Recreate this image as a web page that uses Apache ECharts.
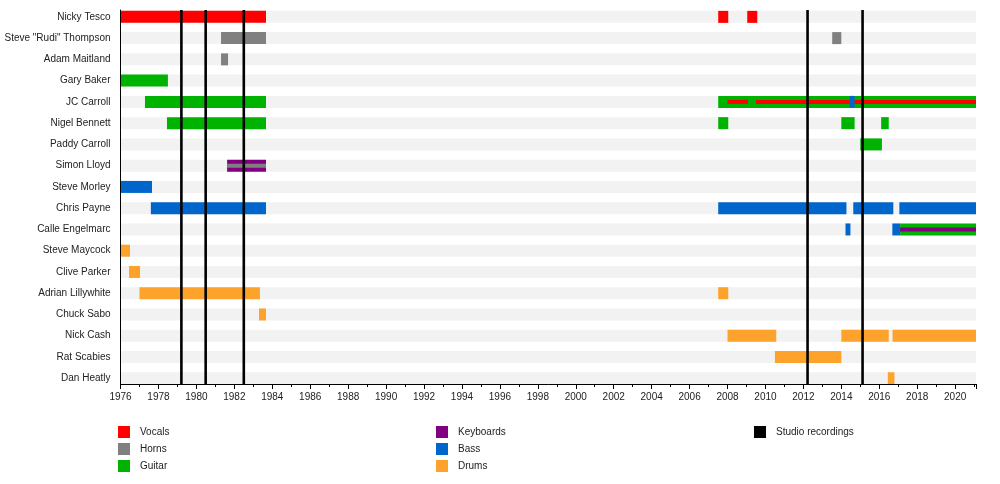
<!DOCTYPE html>
<html>
<head>
<meta charset="utf-8">
<script src="https://cdn.jsdelivr.net/npm/echarts@6/dist/echarts.min.js"></script>
<style>
  html, body { margin: 0; padding: 0; background: #fff; }
  #chart { width: 1000px; height: 484px; }
</style>
</head>
<body>
<div id="chart"></div>
<script>
// band members, top to bottom
const members = [
  'Nicky Tesco', 'Steve "Rudi" Thompson', 'Adam Maitland', 'Gary Baker',
  'JC Carroll', 'Nigel Bennett', 'Paddy Carroll', 'Simon Lloyd',
  'Steve Morley', 'Chris Payne', 'Calle Engelmarc', 'Steve Maycock',
  'Clive Parker', 'Adrian Lillywhite', 'Chuck Sabo', 'Nick Cash',
  'Rat Scabies', 'Dan Heatly'
];

// [member index, start, end, kind]  kind: 0 full bar, 1 thin stripe, 2 full bar on top
const vocals = [
  [0, 1976.0, 1983.67, 0], [0, 2007.51, 2008.04, 0], [0, 2009.04, 2009.57, 0],
  [4, 2008.0, 2009.08, 1], [4, 2009.5, 2021.1, 1]
];
const horns = [
  [1, 1981.3, 1983.67, 0], [1, 2013.52, 2014.0, 0], [2, 1981.3, 1981.67, 0],
  [7, 1981.62, 1983.67, 1]
];
const guitar = [
  [3, 1976.0, 1978.5, 0], [4, 1977.29, 1983.67, 0], [4, 2007.51, 2021.1, 0],
  [5, 1978.45, 1983.67, 0], [5, 2007.51, 2008.04, 0], [5, 2014.0, 2014.7, 0],
  [5, 2016.1, 2016.5, 0], [6, 2015.0, 2016.14, 0], [10, 2017.1, 2021.1, 0]
];
const keyboards = [
  [7, 1981.62, 1983.67, 0], [10, 2017.1, 2021.1, 1]
];
const bass = [
  [8, 1976.0, 1977.66, 0], [9, 1977.6, 1983.67, 0], [9, 2007.51, 2014.27, 0],
  [9, 2014.63, 2016.74, 0], [9, 2017.06, 2021.1, 0], [4, 2014.45, 2014.7, 2],
  [10, 2014.22, 2014.48, 0], [10, 2016.69, 2017.1, 0]
];
const drums = [
  [11, 1976.0, 1976.5, 0], [12, 1976.45, 1977.03, 0], [13, 1977.0, 1983.35, 0],
  [13, 2007.51, 2008.04, 0], [14, 1983.3, 1983.67, 0], [15, 2008.0, 2010.57, 0],
  [15, 2014.0, 2016.5, 0], [15, 2016.7, 2021.1, 0], [16, 2010.5, 2014.0, 0],
  [17, 2016.45, 2016.8, 0]
];
// studio album dates
const recordings = [1979.21, 1980.49, 1982.5, 2012.22, 2015.12];

const startYear = 1976;
const endYear = 2021.1;

var dom = document.getElementById('chart');
var myChart = echarts.init(dom, null, { renderer: 'canvas' });

const font = "'Liberation Sans', Arial, sans-serif";

function renderBar(params, api) {
  var row = api.value(0);
  var kind = api.value(3);
  var p0 = api.coord([api.value(1), row]);
  var p1 = api.coord([api.value(2), row]);
  var h = kind === 1 ? 4 : 12;
  return {
    type: 'rect',
    shape: { x: p0[0], y: p0[1] - h / 2, width: p1[0] - p0[0], height: h },
    style: { fill: api.visual('color') },
    z2: kind === 0 ? 1 : (kind === 1 ? 10 : 20)
  };
}

function barSeries(name, color, data) {
  return {
    name: name,
    type: 'custom',
    renderItem: renderBar,
    itemStyle: { color: color },
    encode: { x: [1, 2], y: 0 },
    data: data,
    silent: true
  };
}

var option = {
  animation: false,
  grid: { left: 120.5, right: 24, top: 10, bottom: 100, outerBoundsMode: 'none', containLabel: false },
  xAxis: {
    type: 'value',
    z: 5,
    min: startYear,
    max: endYear,
    interval: 2,
    axisLine: { onZero: false, lineStyle: { color: '#000', width: 1 } },
    axisTick: { length: 5, lineStyle: { color: '#000' } },
    minorTick: { show: true, splitNumber: 2, length: 3, lineStyle: { color: '#000' } },
    splitLine: { show: false },
    axisLabel: {
      margin: 8,
      fontSize: 10,
      color: '#222',
      fontFamily: font,
      showMaxLabel: false,
      formatter: function (v) { return v % 2 === 0 ? String(v) : ''; }
    }
  },
  yAxis: {
    type: 'value',
    z: 5,
    inverse: true,
    min: -0.322,
    max: 17.27,
    axisLine: { show: true, onZero: false, lineStyle: { color: '#000', width: 1 } },
    axisTick: { show: false },
    splitLine: { show: false },
    axisLabel: {
      customValues: members.map((m, i) => i),
      formatter: function (v) { return members[v]; },
      margin: 10,
      fontSize: 10,
      color: '#222',
      fontFamily: font
    }
  },
  legend: [
    { data: ['Vocals', 'Horns', 'Guitar'], left: 118 },
    { data: ['Keyboards', 'Bass', 'Drums'], left: 436 },
    { data: ['Studio recordings'], left: 754 }
  ].map(l => Object.assign({
    orient: 'vertical',
    top: 426,
    padding: 0,
    icon: 'rect',
    itemWidth: 12,
    itemHeight: 12,
    itemGap: 5,
    selectedMode: false,
    textStyle: { fontSize: 10, color: '#222', fontFamily: font, padding: [4, 0, 0, 5] }
  }, l)),
  series: [
    {
      // light gray row backgrounds
      type: 'custom',
      silent: true,
      encode: { x: 1, y: 0 },
      data: members.map((m, i) => [i, startYear]),
      renderItem: function (params, api) {
        var p0 = api.coord([startYear, api.value(0)]);
        var p1 = api.coord([endYear, api.value(0)]);
        return {
          type: 'rect',
          shape: { x: p0[0], y: p0[1] - 6, width: p1[0] - p0[0], height: 12 },
          style: { fill: '#f2f2f2' },
          z2: 0
        };
      }
    },
    barSeries('Vocals', '#ff0000', vocals),
    barSeries('Horns', '#808080', horns),
    barSeries('Guitar', '#00b300', guitar),
    barSeries('Keyboards', '#800080', keyboards),
    barSeries('Bass', '#0066cc', bass),
    barSeries('Drums', '#fda32b', drums),
    {
      name: 'Studio recordings',
      type: 'custom',
      silent: true,
      itemStyle: { color: '#000' },
      encode: { x: 0, y: 1 },
      data: recordings.map(t => [t, 0]),
      renderItem: function (params, api) {
        var cs = params.coordSys;
        var x = api.coord([api.value(0), 0])[0];
        return {
          type: 'line',
          shape: { x1: x, y1: cs.y, x2: x, y2: cs.y + cs.height },
          style: { stroke: '#000', lineWidth: 2.6 },
          z2: 30
        };
      }
    }
  ]
};

myChart.setOption(option);
window.addEventListener('resize', myChart.resize);
</script>
</body>
</html>
